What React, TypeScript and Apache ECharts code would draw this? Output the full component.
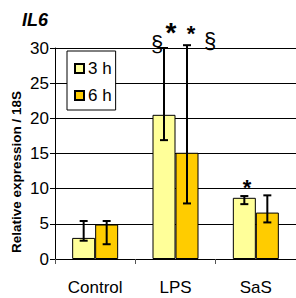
import React, { useEffect, useRef } from "react";
import * as echarts from "echarts";

const categories = ["Control", "LPS", "SaS"];
const seriesNames = ["3 h", "6 h"];
const values3h = [3.0, 20.5, 8.7];
const values6h = [4.9, 15.1, 6.6];
const err3hLow = [2.6, 16.9, 7.8];
const err3hHigh = [5.4, 30.0, 8.95];
const err6hLow = [2.1, 7.9, 5.2];
const err6hHigh = [5.4, 30.4, 9.05];
const yTicks = [0, 5, 10, 15, 20, 25, 30];

const FONT = "'Liberation Sans', Arial, sans-serif";
const BAR_W = 23;

export default function App() {
  const ref = useRef<HTMLDivElement>(null);
  useEffect(() => {
    if (!ref.current) return;
    document.body.style.margin = "0";
    const chart = echarts.init(ref.current, null, { renderer: "svg" });
    const errData: number[][] = [];
    categories.forEach((_, i) => {
      errData.push([i, err3hLow[i], err3hHigh[i], -1]);
      errData.push([i, err6hLow[i], err6hHigh[i], 1]);
    });
    chart.setOption({
      animation: false,
      textStyle: { fontFamily: FONT },
      grid: { left: 55, top: 48, width: 243, height: 211, containLabel: false },
      title: {
        text: "IL6",
        left: 17,
        top: 6,
        textStyle: { fontFamily: FONT, fontSize: 18, fontWeight: "bold", fontStyle: "italic", color: "#000" },
      },
      legend: {
        orient: "vertical",
        left: 67,
        top: 51,
        padding: [9, 4, 6, 7],
        itemGap: 10,
        itemWidth: 9,
        itemHeight: 9,
        backgroundColor: "#fff",
        borderColor: "#000",
        borderWidth: 1,
        borderRadius: 0,
        data: seriesNames.map((n) => ({ name: n, icon: "rect" })),
        textStyle: { fontFamily: FONT, fontSize: 17, color: "#000", padding: [0, 0, 0, -1] },
      },
      xAxis: {
        type: "category",
        data: categories,
        axisLine: { lineStyle: { color: "#000", width: 1 } },
        axisTick: { show: true, length: 5, alignWithLabel: false, lineStyle: { color: "#555" } },
        axisLabel: { fontFamily: FONT, fontSize: 17, color: "#000", margin: 20 },
      },
      yAxis: {
        type: "value",
        min: yTicks[0],
        max: yTicks[yTicks.length - 1],
        interval: 5,
        axisLine: { show: true, lineStyle: { color: "#000", width: 1 } },
        axisTick: { show: true, length: 5, lineStyle: { color: "#000" } },
        axisLabel: { fontFamily: FONT, fontSize: 17, color: "#000", margin: 6 },
        splitLine: { show: true, lineStyle: { color: "#000", width: 1 } },
      },
      graphic: [
        {
          type: "text",
          x: 16,
          y: 172,
          rotation: Math.PI / 2,
          style: {
            text: "Relative expression / 18S",
            fontFamily: FONT,
            fontSize: 13.5,
            fontWeight: "bold",
            fill: "#000",
            align: "center",
            verticalAlign: "middle",
          },
        },
        { type: "text", x: 157, y: 43, z: 100, style: { text: "§", fontFamily: FONT, fontSize: 22, fill: "#000", align: "center", verticalAlign: "middle" } },
        { type: "text", x: 171, y: 32, z: 100, style: { text: "*", fontFamily: FONT, fontSize: 28, fontWeight: "bold", fill: "#000", align: "center", verticalAlign: "middle" } },
        { type: "text", x: 191, y: 33, z: 100, style: { text: "*", fontFamily: FONT, fontSize: 22, fontWeight: "bold", fill: "#000", align: "center", verticalAlign: "middle" } },
        { type: "text", x: 210, y: 40, z: 100, style: { text: "§", fontFamily: FONT, fontSize: 22, fill: "#000", align: "center", verticalAlign: "middle" } },
        { type: "text", x: 247, y: 187, z: 100, style: { text: "*", fontFamily: FONT, fontSize: 22, fontWeight: "bold", fill: "#000", align: "center", verticalAlign: "middle" } },
      ],
      series: [
        {
          name: seriesNames[0],
          type: "bar",
          data: values3h,
          barWidth: BAR_W,
          barGap: "0%",
          itemStyle: { color: "#FFFF99", borderColor: "#000", borderWidth: 1 },
        },
        {
          name: seriesNames[1],
          type: "bar",
          data: values6h,
          barWidth: BAR_W,
          barGap: "0%",
          itemStyle: { color: "#FFCC00", borderColor: "#000", borderWidth: 1 },
        },
        {
          type: "custom",
          clip: false,
          z: 10,
          data: errData,
          renderItem: (params: any, api: any) => {
            const ci = api.value(0);
            const lo = api.coord([ci, api.value(1)]);
            const hi = api.coord([ci, api.value(2)]);
            const x = lo[0] + api.value(3) * (BAR_W / 2);
            const cap = 4;
            const st = { stroke: "#000", lineWidth: 2 };
            return {
              type: "group",
              children: [
                { type: "line", shape: { x1: x, y1: lo[1], x2: x, y2: hi[1] }, style: st },
                { type: "line", shape: { x1: x - cap, y1: lo[1], x2: x + cap, y2: lo[1] }, style: st },
                { type: "line", shape: { x1: x - cap, y1: hi[1], x2: x + cap, y2: hi[1] }, style: st },
              ],
            };
          },
        },
      ],
    });
    return () => chart.dispose();
  }, []);
  return <div ref={ref} style={{ width: 296, height: 298 }} />;
}
